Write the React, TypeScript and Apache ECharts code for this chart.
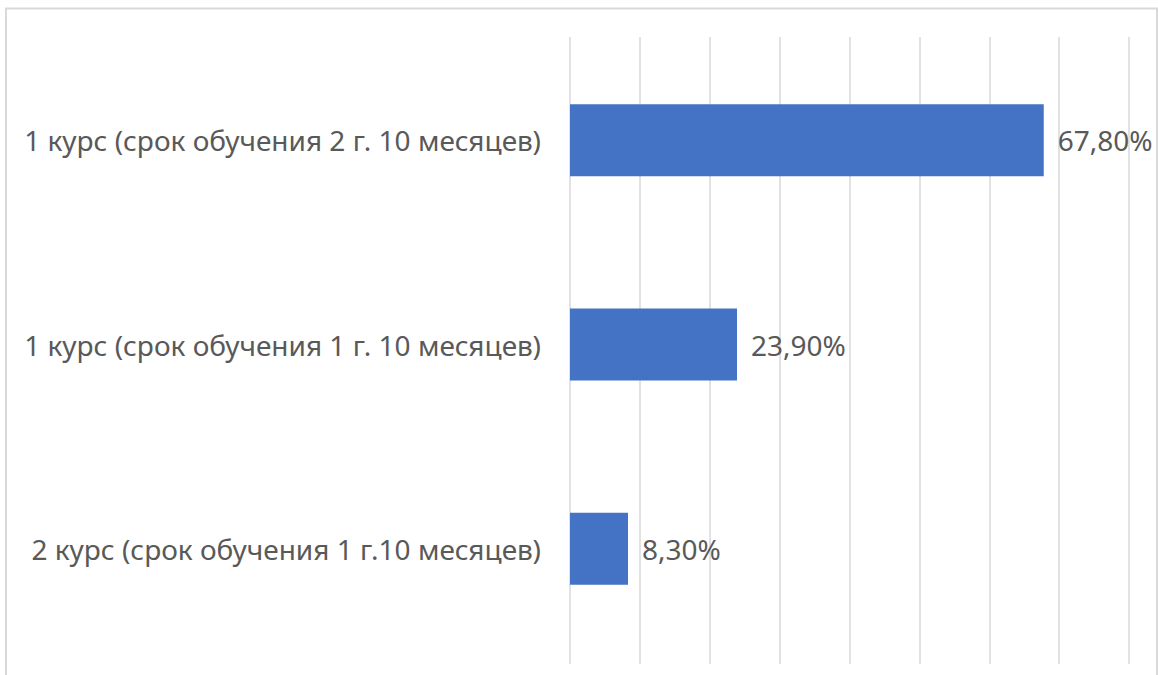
import React, { useEffect, useRef } from "react";
import * as echarts from "echarts";

const categories = [
  "1 курс (срок обучения 2 г. 10 месяцев)",
  "1 курс (срок обучения 1 г. 10 месяцев)",
  "2 курс (срок обучения 1 г.10 месяцев)",
];
const values = [67.8, 23.9, 8.3];
const axisMin = 0;
const axisMax = 80;
const axisInterval = 10;

const FONT = "'Noto Sans', 'Open Sans', sans-serif";
const TEXT_COLOR = "#595959";

export default function App() {
  const ref = useRef<HTMLDivElement>(null);
  useEffect(() => {
    if (!ref.current) return;
    const chart = echarts.init(ref.current, null, { renderer: "svg" });
    chart.setOption({
      animation: false,
      backgroundColor: "#ffffff",
      graphic: [
        {
          type: "rect",
          shape: { x: 6, y: 8.5, width: 1151, height: 720 },
          style: { fill: "none", stroke: "#d9d9d9", lineWidth: 2 },
          silent: true,
        },
      ],
      grid: [
        { left: 570, right: 29, top: 37, bottom: 11 },
        { left: 570, right: 29, top: 38, bottom: 24 },
      ],
      xAxis: [
        {
          gridIndex: 0,
          type: "value",
          min: axisMin,
          max: axisMax,
          interval: axisInterval,
          axisLabel: { show: false },
          axisLine: { show: false },
          axisTick: { show: false },
          splitLine: { show: true, lineStyle: { color: "#d9d9d9", width: 1.5 } },
        },
        {
          gridIndex: 1,
          type: "value",
          min: axisMin,
          max: axisMax,
          interval: axisInterval,
          axisLabel: { show: false },
          axisLine: { show: false },
          axisTick: { show: false },
          splitLine: { show: false },
        },
      ],
      yAxis: [
        {
          gridIndex: 0,
          type: "category",
          data: categories,
          show: false,
        },
        {
          gridIndex: 1,
          type: "category",
          data: categories,
          inverse: true,
          axisLine: { show: false },
          axisTick: { show: false },
          axisLabel: {
            margin: 29,
            color: TEXT_COLOR,
            fontFamily: FONT,
            fontSize: 28,
          },
        },
      ],
      series: [
        {
          type: "bar",
          xAxisIndex: 1,
          yAxisIndex: 1,
          data: values,
          barWidth: 72,
          itemStyle: { color: "#4472c4" },
          label: {
            show: true,
            position: "right",
            distance: 14,
            color: TEXT_COLOR,
            fontFamily: FONT,
            fontSize: 28,
            formatter: (p: any) => p.value.toFixed(2).replace(".", ",") + "%",
          },
        },
      ],
    });
    return () => chart.dispose();
  }, []);
  return (
    <div
      ref={ref}
      style={{ position: "fixed", left: 0, top: 0, width: 1158, height: 675 }}
    />
  );
}
